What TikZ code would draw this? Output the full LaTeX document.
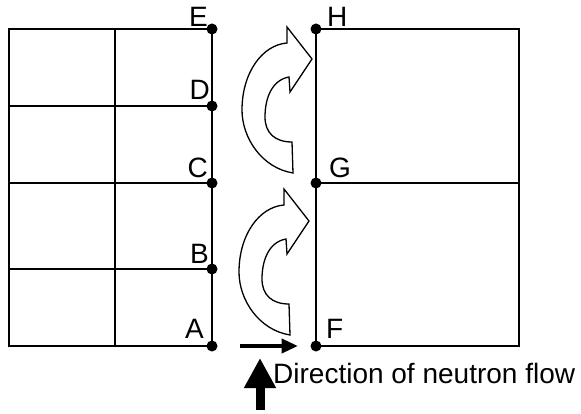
\documentclass[tikz,border=0pt]{standalone}
\usepackage{fontspec}
\setmainfont{Liberation Sans}
\usetikzlibrary{arrows.meta}
\newcommand{\turnarrow}[2]{\filldraw[fill=white, draw=black, line width=1.3pt, line join=miter, shift={(#1,#2)}] (293,240) .. controls (262,245) and (242,275) .. (242,303) .. controls (242,340) and (262,368) .. (287,370) -- (287,386) -- (312,354) -- (290,321) -- (289,336) .. controls (272,333) and (265,315) .. (265,296) .. controls (265,280) and (275,271) .. (292,271) -- cycle;}

\begin{document}
\begin{tikzpicture}[x=1pt,y=1pt,
  grid/.style={black, line width=1.6pt},
  dot/.style={circle, fill=black, inner sep=0pt, minimum size=11pt},
  lab/.style={inner sep=0pt, font=\fontsize{28}{33}\selectfont}]
\useasboundingbox (0,0) rectangle (581,413);
\draw[grid] (9,67) rectangle (212,384);
\draw[grid] (115,67) -- (115,384);
\draw[grid] (9,307) -- (212,307);
\draw[grid] (9,230) -- (212,230);
\draw[grid] (9,144) -- (212,144);
\draw[grid] (316,67) rectangle (519,384);
\draw[grid] (316,230) -- (519,230);
\node[dot] (E) at (212,384) {};
\node[dot] (D) at (212,307) {};
\node[dot] (C) at (212,230) {};
\node[dot] (B) at (212,144) {};
\node[dot] (A) at (212,67) {};
\node[dot] (H) at (316,384) {};
\node[dot] (G) at (316,230) {};
\node[dot] (F) at (316,67) {};
\node[lab, anchor=base east] (lE) at (208,386) {E};
\node[lab, anchor=base east] (lD) at (210,313) {D};
\node[lab, anchor=base east] (lC) at (208,236) {C};
\node[lab, anchor=base east] (lB) at (209,150) {B};
\node[lab, anchor=base east] (lA) at (204,75) {A};
\node[lab, anchor=base west] (lH) at (327,386) {H};
\node[lab, anchor=base west] (lG) at (329,236) {G};
\node[lab, anchor=base west] (lF) at (326,75) {F};
\turnarrow{0}{0}
\turnarrow{-3}{-162}
\coordinate (push) at (240,67);
\coordinate (pushend) at (298,67);
\draw[line width=4pt, -{Triangle[length=16.5pt,width=14pt]}] (push) -- (pushend);
\coordinate (flow) at (260,3);
\coordinate (flowend) at (260,55);
\draw[line width=9pt, -{Triangle[length=30pt,width=30pt]}] (flow) -- (flowend);
\node[lab, anchor=base west] (flowtext) at (273,30) {Direction of neutron flow};
\end{tikzpicture}
\end{document}
